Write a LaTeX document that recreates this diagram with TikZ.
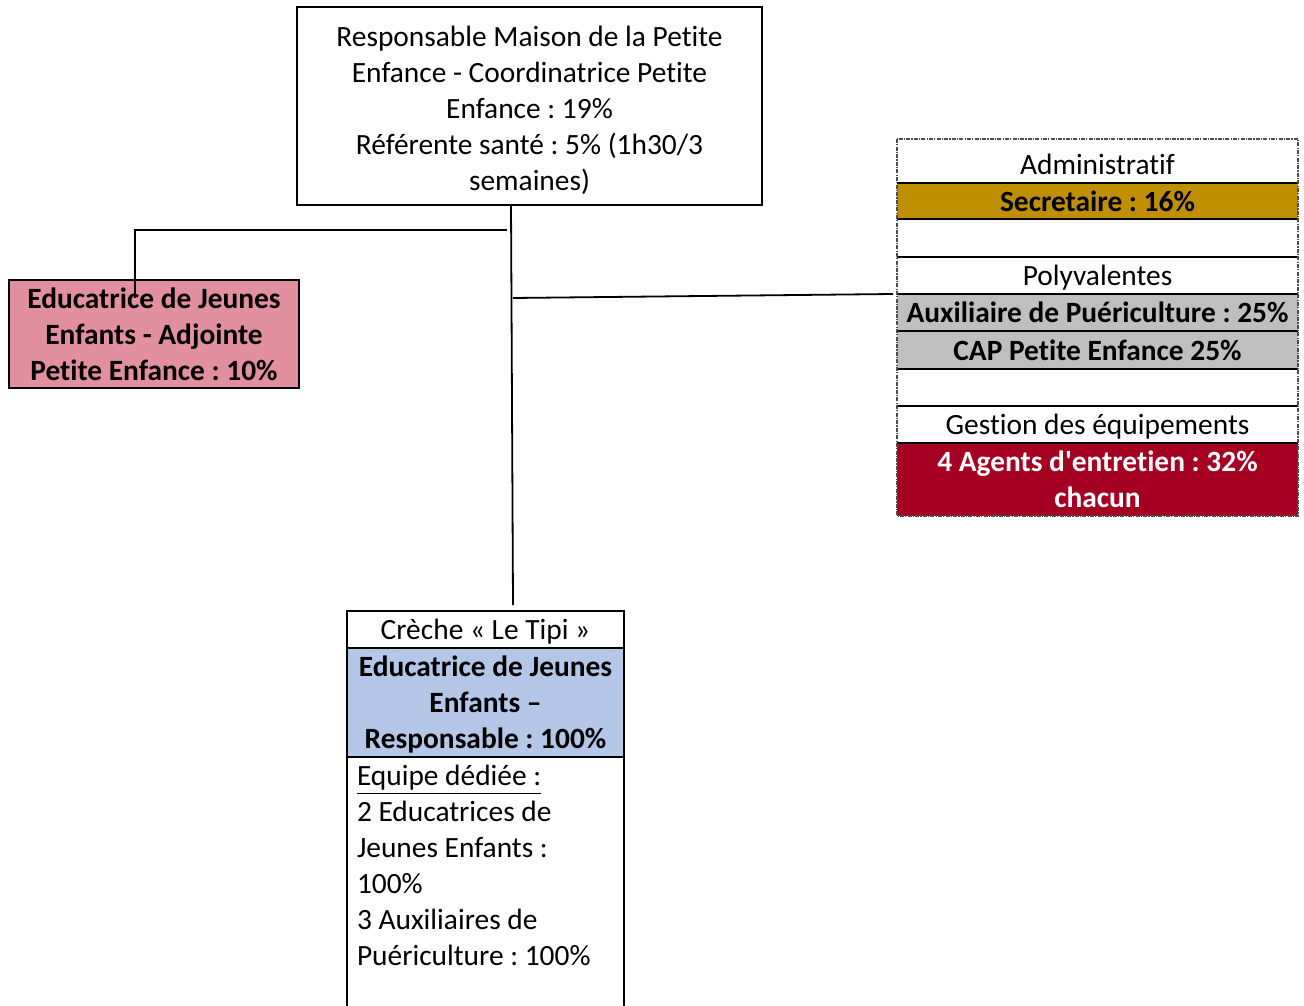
\documentclass[tikz,border=0pt]{standalone}
\usepackage{fontspec}
\setmainfont{Carlito}[Ligatures={TeX,NoCommon}]
\usetikzlibrary{calc}
\definecolor{adjpink}{RGB}{226,143,159}
\definecolor{respblue}{RGB}{180,199,231}
\definecolor{secrgold}{RGB}{191,143,0}
\definecolor{auxgray}{RGB}{191,191,191}
\definecolor{agentred}{RGB}{165,0,33}
\frenchspacing
\begin{document}
\begin{tikzpicture}[x=0.5pt, y=-0.5pt,
    every node/.style={font=\fontsize{14.7}{18}\selectfont, outer sep=0pt},
    bold/.style={font=\fontsize{14.7}{18}\selectfont\bfseries},
    box/.style={draw, line width=0.9pt, align=center, inner sep=0pt},
    row/.style={anchor=north, minimum width=200.5pt, inner sep=0pt, align=center},
    link/.style={line width=0.9pt},
    panel/.style={draw=black!70, line width=0.6pt, dash pattern=on 2pt off 0.6pt on 0.6pt off 0.6pt}]
    \useasboundingbox (0,0) rectangle (1304,1005);

    % the head of the house
    \node[box, minimum width=232.5pt, minimum height=99pt] (top) at (529.5,106) {};
    \node[align=center, inner sep=0pt] (topText) at (529.5,110)
        {Responsable Maison de la Petite\\Enfance - Coordinatrice Petite\\Enfance : 19\%\\Référente santé : 5\% (1h30/3\\semaines)};

    % the deputy
    \node[box, bold, fill=adjpink, minimum width=145pt, minimum height=54pt] (adj) at (154,334)
        {Educatrice de Jeunes\\Enfants - Adjointe\\Petite Enfance : 10\%};

    % the creche
    \node[box, anchor=north, text depth=0pt, minimum width=138.5pt, minimum height=18.5pt] (tipi) at (485.5,611) {Crèche « Le Tipi »};
    \node[box, bold, anchor=north, text depth=0pt, fill=respblue, minimum width=138.5pt, minimum height=54.5pt] (resp) at (tipi.south)
        {Educatrice de Jeunes\\Enfants –\\Responsable : 100\%};
    \node[anchor=north west, align=left, inner xsep=5pt, inner ysep=4pt] (team) at (resp.south west)
        {\underline{Equipe dédiée :}\\2 Educatrices de\\Jeunes Enfants :\\100\%\\3 Auxiliaires de\\Puériculture : 100\%};
    \draw[link] (resp.south west) -- ++(0,252);
    \draw[link] (resp.south east) -- ++(0,252);

    % the shared staff (right panel)
    \coordinate (panelTop) at (1097.5,139);
    \node[row, minimum height=18.5pt] (admin) at (1097.5,146) {Administratif};
    \node[row, bold, fill=secrgold, minimum height=18pt] (secr) at (admin.south) {Secretaire : 16\%};
    \node[row, minimum height=19pt] (gap1) at (secr.south) {};
    \node[row, text depth=0pt, minimum height=18.5pt] (poly) at (gap1.south) {Polyvalentes};
    \node[row, bold, fill=auxgray, minimum height=18.5pt] (aux) at (poly.south) {Auxiliaire de Puériculture : 25\%};
    \node[row, bold, fill=auxgray, minimum height=19pt] (cap) at (aux.south) {CAP Petite Enfance 25\%};
    \node[row, minimum height=18.5pt] (gap2) at (cap.south) {};
    \node[row, text depth=0pt, minimum height=18.5pt] (gest) at (gap2.south) {Gestion des équipements};
    \node[row, bold, fill=agentred, text=white, minimum height=36.5pt] (agents) at (gest.south)
        {4 Agents d\textquotesingle entretien : 32\%\\chacun};

    % the rules between the rows
    \foreach \r in {secr,poly,aux,cap,gest,agents}
        \draw[link] (\r.north west) -- (\r.north east);
    \foreach \r in {secr,cap}
        \draw[link] (\r.south west) -- (\r.south east);
    \draw[panel] (admin.west |- panelTop) rectangle (agents.south east);

    % the connectors (free ends are coordinates, as in the original)
    \coordinate (jTop) at (511,205);
    \coordinate (jCreche) at (513,605);
    \coordinate (jLeft) at (507,230);
    \coordinate (jAdj) at (135,230);
    \coordinate (jAdjEnd) at (135,298);
    \coordinate (jRight) at (513,298);
    \coordinate (jPanel) at (893,294);
    \draw[link] (jTop) -- (jCreche);
    \draw[link] (jLeft) -- (jAdj) -- (jAdjEnd);
    \draw[link] (jRight) -- (jPanel);
\end{tikzpicture}
\end{document}
